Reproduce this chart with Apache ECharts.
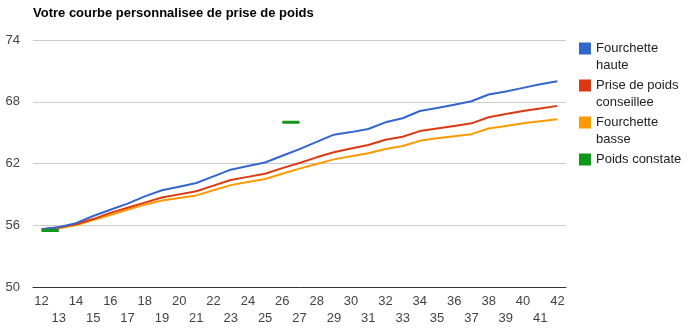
<!DOCTYPE html>
<html>
<head>
<meta charset="utf-8">
<script src="https://cdn.jsdelivr.net/npm/echarts@6/dist/echarts.min.js"></script>
<style>
  html, body { margin: 0; padding: 0; background: #fff; }
  #chart { width: 691px; height: 332px; }
</style>
</head>
<body>
<div id="chart"></div>
<script>
// Pregnancy weeks on the horizontal axis
const weeks = ['12','13','14','15','16','17','18','19','20','21','22','23','24','25','26','27',
  '28','29','30','31','32','33','34','35','36','37','38','39','40','41','42'];

// Weight curves (kg), one value per week
const fourchetteHaute = [55.6,55.8,56.2,56.9,57.5,58.1,58.8,59.4,59.75,60.1,60.75,61.4,61.75,62.1,62.75,63.4,
  64.1,64.8,65.05,65.35,66.0,66.4,67.1,67.4,67.7,68.05,68.7,69.0,69.35,69.7,70.0];
const priseConseillee = [55.6,55.8,56.1,56.6,57.2,57.7,58.2,58.7,59.0,59.3,59.85,60.4,60.7,61.0,61.55,62.05,
  62.6,63.1,63.45,63.8,64.3,64.6,65.15,65.4,65.65,65.9,66.5,66.8,67.1,67.35,67.6];
const fourchetteBasse = [55.6,55.7,56.0,56.5,57.0,57.5,58.0,58.4,58.65,58.9,59.4,59.9,60.2,60.5,61.0,61.5,
  61.95,62.4,62.7,63.0,63.4,63.7,64.2,64.45,64.65,64.85,65.4,65.65,65.9,66.1,66.3];
// Measured weight: only a few weeks recorded
const poidsConstate = [55.5,55.5,null,null,null,null,null,null,null,null,null,null,null,null,66,66,
  null,null,null,null,null,null,null,null,null,null,null,null,null,null,null];

// Vertical axis ticks
const yMin = 50, yMax = 74, yStep = 6;

const seriesNames = ['Fourchette haute', 'Prise de poids conseillee', 'Fourchette basse', 'Poids constate'];
const legendLabels = ['\nFourchette\nhaute', '\nPrise de poids\nconseillee', '\nFourchette\nbasse', 'Poids constate'];
const colors = ['#3366cc', '#dc3912', '#ff9900', '#109618'];
const seriesData = [fourchetteHaute, priseConseillee, fourchetteBasse, poidsConstate];

const FONT = '"Liberation Sans", Arial, sans-serif';
const legendTops = [23, 60, 97, 151];

const chart = echarts.init(document.getElementById('chart'), null, { renderer: 'canvas' });

chart.setOption({
  animation: false,
  color: colors,
  title: {
    text: 'Votre courbe personnalisee de prise de poids',
    left: 33, top: 7, padding: 0,
    textStyle: { fontFamily: FONT, fontSize: 13, fontWeight: 'bold', color: '#000' }
  },
  legend: seriesNames.map((name, i) => ({
    orient: 'vertical',
    left: 579,
    top: legendTops[i],
    padding: 0,
    icon: 'rect',
    itemWidth: 12,
    itemHeight: 12,
    itemGap: 0,
    selectedMode: false,
    data: [name],
    formatter: () => legendLabels[i],
    textStyle: { fontFamily: FONT, fontSize: 13, lineHeight: 17, color: '#222' }
  })),
  grid: { left: 33, right: 125, top: 40, bottom: 45, containLabel: false },
  xAxis: {
    type: 'category',
    data: weeks,
    boundaryGap: true,
    axisLine: { lineStyle: { color: '#333', width: 1 } },
    axisTick: { show: false },
    axisLabel: {
      interval: 0,
      margin: 6,
      fontFamily: FONT,
      fontSize: 13,
      lineHeight: 17,
      color: '#444',
      formatter: (v, i) => (i % 2 ? '\n' + v : v)
    },
    splitLine: { show: false }
  },
  yAxis: {
    type: 'value',
    min: yMin, max: yMax, interval: yStep,
    axisLine: { show: false },
    axisTick: { show: false },
    axisLabel: { margin: 13, fontFamily: FONT, fontSize: 13, color: '#444' },
    splitLine: { lineStyle: { color: '#cccccc', width: 1 } }
  },
  series: seriesNames.map((name, i) => ({
    name: name,
    type: 'line',
    data: seriesData[i],
    symbol: 'none',
    smooth: false,
    connectNulls: false,
    z: i === 3 ? 5 : 3 - i,
    lineStyle: { color: colors[i], width: i === 3 ? 3 : 2 },
    itemStyle: { color: colors[i] }
  }))
});
</script>
</body>
</html>
